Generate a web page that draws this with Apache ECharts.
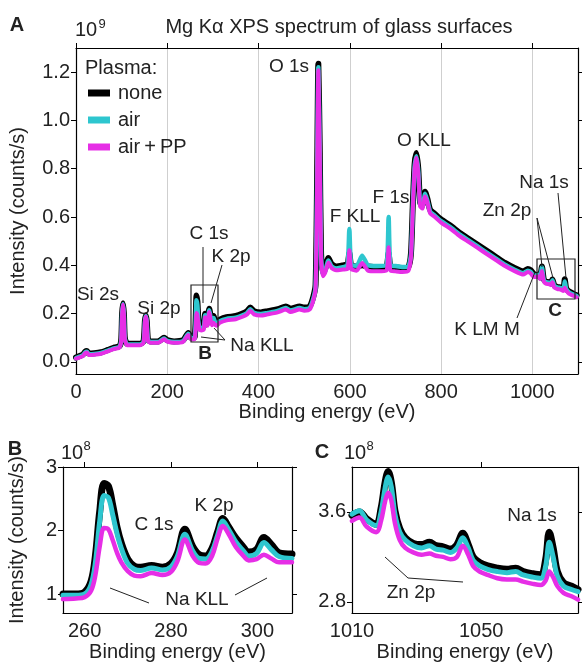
<!DOCTYPE html>
<html>
<head>
<meta charset="utf-8">
<title>Mg Ka XPS spectrum</title>
<script src="https://cdn.jsdelivr.net/npm/echarts@6.0.0/dist/echarts.min.js"></script>
<style>
  body { margin: 0; background: #fff; }
  #main { width: 582px; height: 663px; }
</style>
</head>
<body>
<div id="main"></div>
<script>
// panel A: survey spectrum, intensity in 10^9 counts/s
const xA = [0, 8, 15, 20, 24, 28, 40, 55, 70, 85,
  95, 99, 101, 103, 105, 107, 112, 125, 140, 148,
  151, 153, 155, 158, 165, 180, 193, 200, 215, 235,
  246, 252, 257, 260, 262, 264, 266, 268, 271, 275,
  280, 283, 285, 288, 292, 295, 298, 301.5, 304, 308,
  315, 330, 350, 365, 375, 382, 390, 405, 420, 435,
  445, 460, 470, 490, 500, 512, 520, 525, 528, 531,
  534, 537, 541, 546, 553, 560, 570, 585, 595, 599,
  603, 615, 627, 640, 660, 680, 685, 689, 700, 715,
  728, 734, 738, 742, 746, 750, 754, 759, 765, 770,
  776, 785, 800, 820, 840, 860, 880, 900, 920, 940,
  960, 980, 990, 996, 1003, 1010, 1013, 1017, 1021, 1025,
  1030, 1036, 1040, 1044, 1048, 1055, 1062, 1068, 1071, 1074,
  1080, 1090, 1097];
const noneA = [0.018, 0.025, 0.030, 0.042, 0.045, 0.035, 0.036, 0.040, 0.050, 0.060,
  0.065, 0.090, 0.200, 0.243, 0.200, 0.100, 0.075, 0.075, 0.075, 0.085,
  0.170, 0.192, 0.170, 0.090, 0.085, 0.085, 0.100, 0.090, 0.085, 0.090,
  0.120, 0.100, 0.100, 0.103, 0.160, 0.275, 0.250, 0.180, 0.145, 0.145,
  0.148, 0.200, 0.175, 0.160, 0.220, 0.190, 0.166, 0.190, 0.175, 0.165,
  0.175, 0.185, 0.190, 0.200, 0.210, 0.225, 0.210, 0.205, 0.210, 0.215,
  0.220, 0.230, 0.220, 0.230, 0.225, 0.230, 0.270, 0.320, 0.700, 1.235,
  0.900, 0.450, 0.370, 0.385, 0.430, 0.405, 0.395, 0.400, 0.405, 0.450,
  0.400, 0.395, 0.400, 0.395, 0.392, 0.395, 0.450, 0.395, 0.392, 0.388,
  0.392, 0.450, 0.650, 0.820, 0.865, 0.800, 0.660, 0.650, 0.705, 0.675,
  0.630, 0.615, 0.590, 0.565, 0.535, 0.510, 0.485, 0.460, 0.435, 0.410,
  0.390, 0.375, 0.385, 0.380, 0.365, 0.360, 0.362, 0.350, 0.395, 0.342,
  0.332, 0.330, 0.326, 0.341, 0.318, 0.310, 0.308, 0.302, 0.342, 0.305,
  0.292, 0.282, 0.276];
const airA = [0.016, 0.022, 0.027, 0.039, 0.042, 0.032, 0.033, 0.037, 0.047, 0.057,
  0.062, 0.088, 0.198, 0.240, 0.198, 0.098, 0.072, 0.072, 0.072, 0.082,
  0.168, 0.190, 0.168, 0.088, 0.082, 0.082, 0.097, 0.087, 0.082, 0.087,
  0.117, 0.098, 0.098, 0.100, 0.150, 0.255, 0.235, 0.170, 0.140, 0.140,
  0.142, 0.193, 0.168, 0.155, 0.214, 0.184, 0.160, 0.182, 0.167, 0.157,
  0.168, 0.178, 0.183, 0.193, 0.203, 0.218, 0.203, 0.198, 0.203, 0.208,
  0.213, 0.223, 0.213, 0.223, 0.218, 0.223, 0.262, 0.312, 0.690, 1.220,
  0.890, 0.440, 0.362, 0.376, 0.420, 0.396, 0.387, 0.392, 0.400, 0.550,
  0.402, 0.398, 0.440, 0.400, 0.397, 0.400, 0.600, 0.400, 0.397, 0.393,
  0.395, 0.445, 0.640, 0.810, 0.852, 0.790, 0.652, 0.642, 0.696, 0.667,
  0.622, 0.608, 0.583, 0.558, 0.528, 0.503, 0.478, 0.453, 0.428, 0.403,
  0.383, 0.368, 0.378, 0.373, 0.358, 0.358, 0.361, 0.348, 0.391, 0.340,
  0.330, 0.328, 0.324, 0.338, 0.315, 0.308, 0.306, 0.300, 0.333, 0.303,
  0.289, 0.279, 0.273];
const ppA = [0.014, 0.019, 0.024, 0.036, 0.039, 0.029, 0.030, 0.034, 0.044, 0.054,
  0.059, 0.086, 0.196, 0.238, 0.196, 0.095, 0.069, 0.069, 0.069, 0.079,
  0.166, 0.188, 0.166, 0.085, 0.079, 0.079, 0.094, 0.084, 0.079, 0.084,
  0.112, 0.093, 0.093, 0.095, 0.130, 0.203, 0.195, 0.160, 0.132, 0.130,
  0.134, 0.185, 0.160, 0.150, 0.207, 0.175, 0.152, 0.162, 0.155, 0.150,
  0.162, 0.172, 0.177, 0.187, 0.197, 0.212, 0.197, 0.192, 0.197, 0.202,
  0.207, 0.217, 0.207, 0.217, 0.212, 0.217, 0.255, 0.305, 0.680, 1.208,
  0.880, 0.430, 0.355, 0.369, 0.412, 0.389, 0.380, 0.383, 0.385, 0.462,
  0.385, 0.378, 0.410, 0.378, 0.375, 0.378, 0.475, 0.378, 0.375, 0.372,
  0.376, 0.435, 0.630, 0.800, 0.845, 0.780, 0.645, 0.635, 0.685, 0.660,
  0.615, 0.602, 0.577, 0.552, 0.522, 0.497, 0.472, 0.447, 0.422, 0.397,
  0.377, 0.362, 0.372, 0.367, 0.352, 0.352, 0.355, 0.343, 0.377, 0.334,
  0.324, 0.322, 0.318, 0.330, 0.308, 0.302, 0.300, 0.294, 0.307, 0.296,
  0.283, 0.274, 0.268];

// panel B: C 1s / K 2p region, 10^8 counts/s
const xB = [255, 258, 260, 261.5, 262.5, 263.5, 264.5, 265.5, 266.5, 267.5,
  268.5, 270, 271.5, 273, 275.5, 278, 280, 281.5, 283.2, 285,
  286.5, 288, 289.5, 290.8, 292, 293.3, 295, 296.5, 298, 299.8,
  301.5, 303.2, 305, 308];
const noneB = [1.00, 1.00, 1.03, 1.20, 1.60, 2.30, 2.74, 2.70, 2.40, 2.05,
  1.80, 1.55, 1.44, 1.42, 1.45, 1.42, 1.48, 1.65, 2.02, 1.75,
  1.62, 1.60, 1.72, 1.98, 2.19, 2.06, 1.88, 1.76, 1.66, 1.70,
  1.89, 1.78, 1.65, 1.63];
const airB = [0.98, 0.98, 1.00, 1.15, 1.50, 2.15, 2.55, 2.52, 2.25, 1.95,
  1.72, 1.48, 1.39, 1.37, 1.41, 1.38, 1.43, 1.60, 1.94, 1.68,
  1.56, 1.55, 1.67, 1.93, 2.15, 2.02, 1.82, 1.70, 1.60, 1.64,
  1.81, 1.70, 1.59, 1.56];
const ppB = [0.92, 0.93, 0.95, 1.05, 1.30, 1.75, 2.04, 2.02, 1.85, 1.65,
  1.50, 1.36, 1.29, 1.28, 1.33, 1.30, 1.35, 1.52, 1.86, 1.60,
  1.49, 1.48, 1.60, 1.88, 2.07, 1.95, 1.74, 1.62, 1.53, 1.55,
  1.62, 1.56, 1.50, 1.50];

// panel C: Zn 2p / Na 1s region, 10^8 counts/s
const xC = [1010, 1012.3, 1014.5, 1017.5, 1019, 1020.3, 1021.2, 1022.2, 1023.3, 1024.8,
  1026.5, 1029, 1031.5, 1034, 1036, 1038.2, 1040.5, 1042.5, 1044.3, 1046,
  1047.5, 1049.5, 1052, 1055, 1058, 1060.7, 1063, 1066, 1068.5, 1070,
  1071.1, 1072.3, 1073.6, 1075.5, 1078, 1080];
const noneC = [3.57, 3.60, 3.54, 3.49, 3.63, 3.87, 3.96, 3.86, 3.61, 3.45,
  3.37, 3.32, 3.31, 3.33, 3.30, 3.29, 3.27, 3.31, 3.41, 3.31,
  3.20, 3.15, 3.12, 3.10, 3.09, 3.10, 3.07, 3.05, 3.04, 3.18,
  3.42, 3.28, 3.07, 2.97, 2.94, 2.91];
const airC = [3.58, 3.61, 3.53, 3.48, 3.60, 3.82, 3.91, 3.82, 3.58, 3.42,
  3.35, 3.30, 3.28, 3.30, 3.27, 3.26, 3.24, 3.28, 3.37, 3.28,
  3.17, 3.12, 3.09, 3.07, 3.06, 3.07, 3.04, 3.02, 3.01, 3.12,
  3.33, 3.20, 3.03, 2.94, 2.91, 2.89];
const ppC = [3.52, 3.55, 3.47, 3.42, 3.52, 3.70, 3.77, 3.70, 3.50, 3.35,
  3.28, 3.24, 3.22, 3.23, 3.21, 3.20, 3.18, 3.20, 3.30, 3.22,
  3.12, 3.07, 3.04, 3.01, 3.00, 3.00, 2.98, 2.96, 2.95, 2.99,
  3.07, 3.02, 2.94, 2.88, 2.85, 2.82];

// tick values
const ticksAx = [0, 200, 400, 600, 800, 1000];
const ticksAy = [0, 0.2, 0.4, 0.6, 0.8, 1.0, 1.2];
const ticksBx = [260, 280, 300];
const ticksBy = [1, 2, 3];
const ticksCx = [1010, 1050];
const ticksCy = [2.8, 3.6];

const names = ['none', 'air', 'air\u2009+\u2009PP'];
const colors = ['#000000', '#2ec6cf', '#e62ee6'];

const FONT = '"Liberation Sans", Arial, Helvetica, sans-serif';

function pairs(xs, ys) {
  return xs.map((x, i) => [x, ys[i]]);
}

// one spectrum; axisIdx is the index of the bottom x axis / left y axis of its panel
function line(name, idx, axisIdx, xs, ys, width, smooth) {
  return {
    type: 'line',
    name: name,
    xAxisIndex: axisIdx,
    yAxisIndex: axisIdx,
    data: pairs(xs, ys),
    showSymbol: false,
    symbol: 'none',
    smooth: smooth,
    z: 2 + idx,
    itemStyle: { color: colors[idx] },
    lineStyle: { color: colors[idx], width: width, join: 'round', cap: 'round' },
    emphasis: { disabled: true }
  };
}

// bottom axis with labels + top axis that only has ticks
function xAxes(grid, min, max, labels, topTicks, nameGap, split) {
  return [{
    gridIndex: grid, type: 'value', position: 'bottom', min: min, max: max,
    interval: split ? 200 : undefined,
    axisLine: { onZero: false, lineStyle: { color: '#000', width: 1.2 } },
    axisTick: { show: false },
    axisLabel: { customValues: labels, fontSize: 20, color: '#222', fontFamily: FONT, margin: 8, formatter: v => String(v) },
    splitLine: { show: !!split, lineStyle: { color: '#cfcfcf', width: 1 } },
    name: 'Binding energy (eV)', nameLocation: 'middle', nameGap: nameGap,
    nameTextStyle: { fontSize: 20, color: '#222', fontFamily: FONT }
  }, {
    gridIndex: grid, type: 'value', position: 'top', min: min, max: max,
    axisLine: { onZero: false, lineStyle: { color: '#000', width: 1.2 } },
    axisTick: { show: true, customValues: topTicks, inside: false, length: 5, lineStyle: { color: '#000' } },
    axisLabel: { show: false },
    splitLine: { show: false }
  }];
}

function yAxes(grid, min, max, ticks, fmt, nameGap) {
  let left = {
    gridIndex: grid, type: 'value', position: 'left', min: min, max: max,
    axisLine: { show: true, onZero: false, lineStyle: { color: '#000', width: 1.2 } },
    axisTick: { show: true, customValues: ticks, inside: false, length: 5, lineStyle: { color: '#000' } },
    axisLabel: { customValues: ticks, fontSize: 20, color: '#222', fontFamily: FONT, margin: 6, formatter: fmt },
    splitLine: { show: false }
  };
  if (nameGap) {
    left.name = 'Intensity (counts/s)';
    left.nameLocation = 'middle';
    left.nameGap = nameGap;
    left.nameTextStyle = { fontSize: 20, color: '#222', fontFamily: FONT };
  }
  return [left, {
    gridIndex: grid, type: 'value', position: 'right', min: min, max: max,
    axisLine: { show: true, onZero: false, lineStyle: { color: '#000', width: 1.2 } },
    axisTick: { show: true, customValues: ticks, inside: false, length: 5, lineStyle: { color: '#000' } },
    axisLabel: { show: false },
    splitLine: { show: false }
  }];
}

function txt(text, x, y, size, bold) {
  return {
    type: 'text', x: x, y: y, z: 100,
    style: {
      text: text, fill: '#222', align: 'center', verticalAlign: 'middle',
      font: (bold ? 'bold ' : '') + size + 'px ' + FONT
    }
  };
}
function seg(x1, y1, x2, y2) {
  return { type: 'line', z: 100, shape: { x1: x1, y1: y1, x2: x2, y2: y2 }, style: { stroke: '#222', lineWidth: 1 } };
}
function box(x, y, w, h) {
  return { type: 'rect', z: 100, shape: { x: x, y: y, width: w, height: h }, style: { stroke: '#222', fill: null, lineWidth: 1.2 } };
}

let chart = echarts.init(document.getElementById('main'));

chart.setOption({
  animation: false,
  backgroundColor: '#fff',
  textStyle: { fontFamily: FONT },
  grid: [
    { left: 75, top: 48, width: 503, height: 326 },
    { left: 63, top: 467, width: 229, height: 149 },
    { left: 352, top: 467, width: 226, height: 147 }
  ],
  legend: {
    data: names,
    orient: 'vertical',
    left: 88, top: 83,
    padding: 0,
    itemGap: 7,
    icon: 'rect',
    itemWidth: 22, itemHeight: 7,
    selectedMode: false,
    textStyle: { fontSize: 20, color: '#222', fontFamily: FONT, padding: [0, 0, 0, 3] }
  },
  xAxis: [].concat(
    xAxes(0, 0, 1100, ticksAx, ticksAx, 28, true),
    xAxes(1, 255, 308, ticksBx, ticksBx, 24),
    xAxes(2, 1010, 1080, ticksCx, [1050], 26)
  ),
  yAxis: [].concat(
    yAxes(0, -0.05, 1.3, ticksAy, v => v.toFixed(1), 48),
    yAxes(1, 0.7, 3, ticksBy, v => String(v), 36),
    yAxes(2, 2.7, 4.0, ticksCy, v => v.toFixed(1))
  ),
  series: [
    line(names[0], 0, 0, xA, noneA, 6, 0.2),
    line(names[1], 1, 0, xA, airA, 4.5, 0.2),
    line(names[2], 2, 0, xA, ppA, 4, 0.2),
    // B uses xAxis 2 / yAxis 2
    line(names[0], 0, 2, xB, noneB, 7, 0.35),
    line(names[1], 1, 2, xB, airB, 5, 0.35),
    line(names[2], 2, 2, xB, ppB, 4.5, 0.35),
    // C uses xAxis 4 / yAxis 4
    line(names[0], 0, 4, xC, noneC, 7, 0.35),
    line(names[1], 1, 4, xC, airC, 5, 0.35),
    line(names[2], 2, 4, xC, ppC, 4.5, 0.35)
  ],
  graphic: [
    // headings
    txt('A', 17, 25, 20, true),
    txt('10', 86, 30, 20),
    txt('9', 102, 24, 13),
    txt('Mg K\u03b1 XPS spectrum of glass surfaces', 339, 27, 20),
    txt('B', 15, 449, 20, true),
    txt('10', 72, 453, 20),
    txt('8', 87, 446, 13),
    txt('C', 322, 452, 20, true),
    txt('10', 355, 453, 20),
    txt('8', 370, 446, 13),
    { type: 'text', x: 85, y: 68, z: 100, style: { text: 'Plasma:', fill: '#222', align: 'left', verticalAlign: 'middle', font: '20px ' + FONT } },
    // panel A peak labels
    txt('O 1s', 289, 67, 19),
    txt('O KLL', 424, 141, 19),
    txt('F KLL', 355, 217, 19),
    txt('F 1s', 391, 198, 19),
    txt('Si 2s', 98, 295, 19),
    txt('Si 2p', 159, 309, 19),
    txt('C 1s', 209, 234, 19),
    txt('K 2p', 231, 257, 19),
    txt('Na KLL', 262, 346, 19),
    txt('B', 205, 354, 19, true),
    txt('Na 1s', 544, 183, 19),
    txt('Zn 2p', 507, 211, 19),
    txt('C', 555, 311, 19, true),
    txt('K LM M', 487, 330, 19),
    seg(203, 247, 203, 303),
    seg(222, 265, 211, 303),
    seg(225, 340, 201, 337),
    seg(225, 340, 214, 328),
    seg(558, 193, 566, 278),
    seg(537, 218, 542, 267),
    seg(537, 218, 553, 278),
    seg(517, 318, 535, 272),
    box(191, 285, 27, 57),
    box(537, 259, 38, 40),
    // panel B labels
    txt('C 1s', 154, 525, 19),
    txt('K 2p', 214, 506, 19),
    txt('Na KLL', 197, 600, 19),
    seg(110, 588, 149, 603),
    seg(235, 595, 267, 578),
    // panel C labels
    txt('Na 1s', 532, 516, 19),
    txt('Zn 2p', 411, 593, 19),
    { type: 'polyline', z: 100, shape: { points: [[385, 557], [408, 578], [463, 582]] }, style: { stroke: '#222', fill: null, lineWidth: 1 } }
  ]
});
</script>
</body>
</html>
